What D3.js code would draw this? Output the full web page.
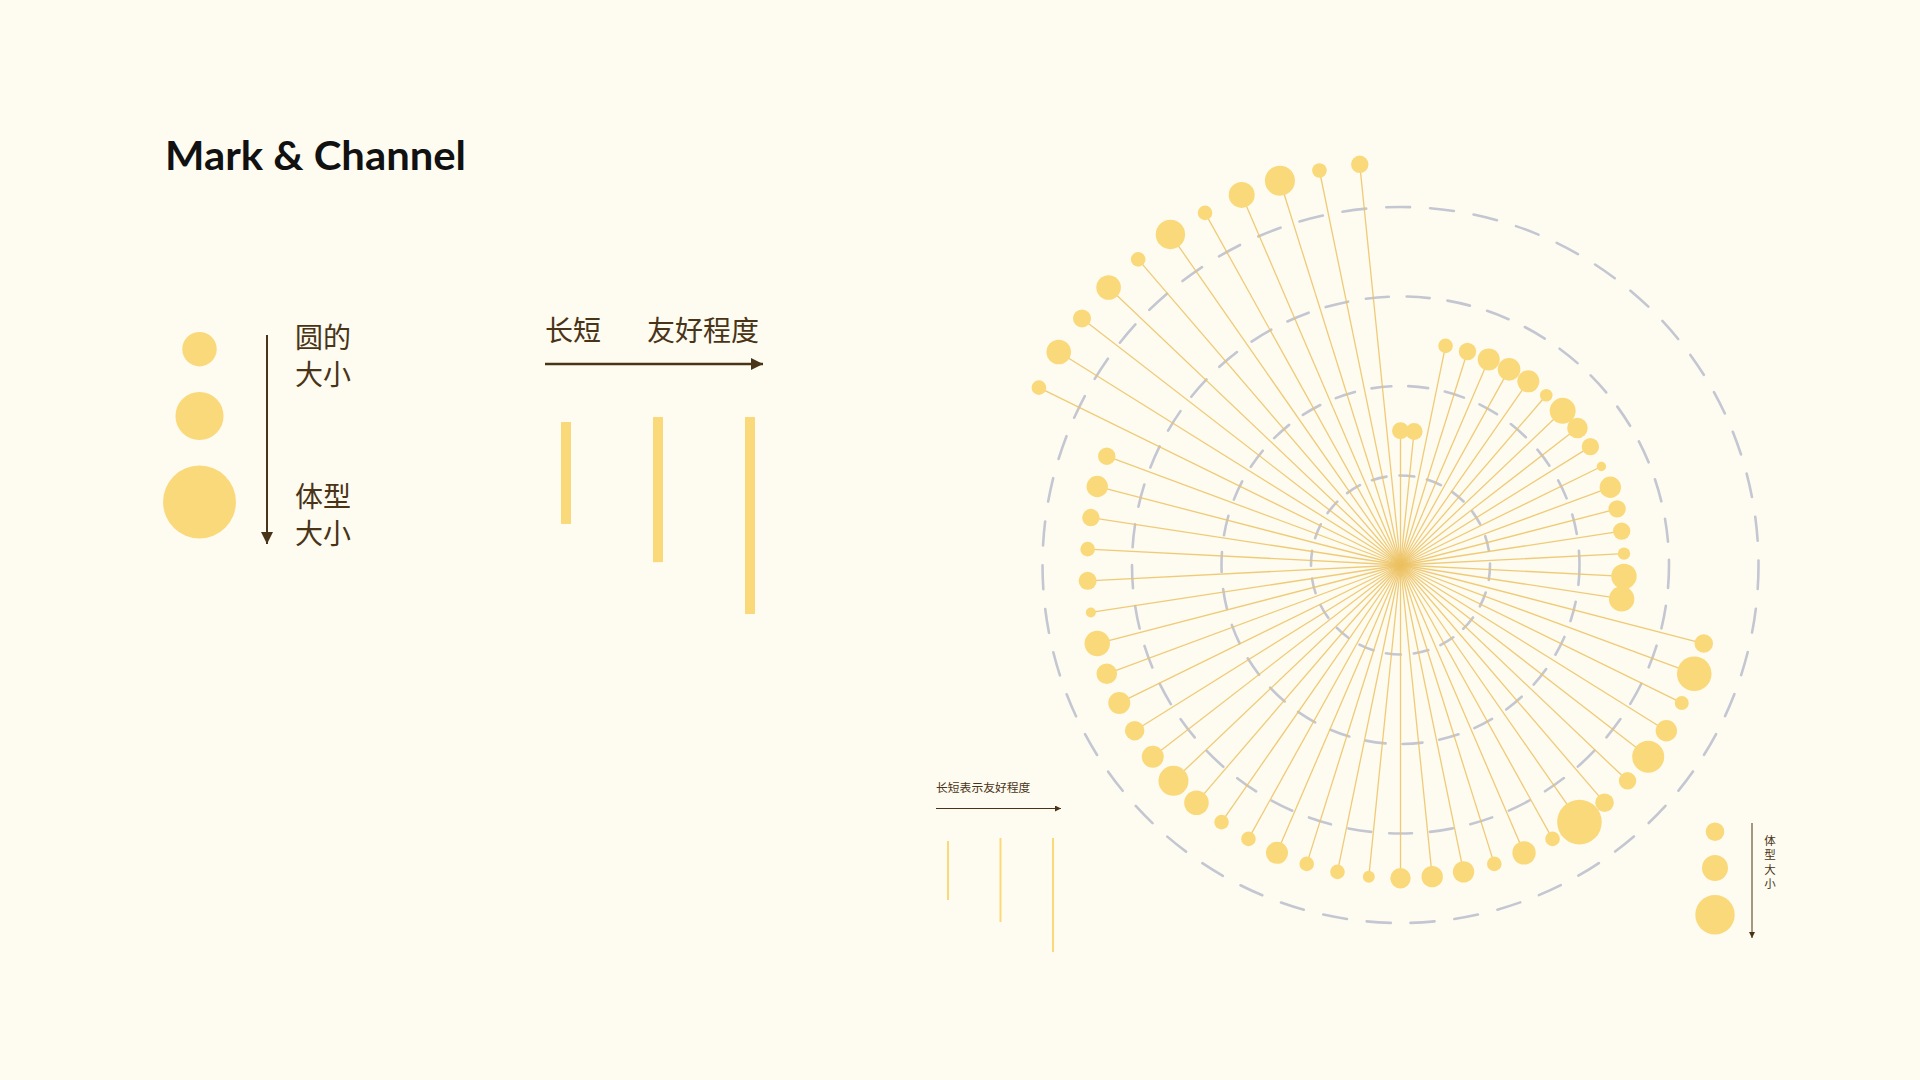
<!DOCTYPE html>
<html>
<head>
<meta charset="utf-8">
<script src="https://cdn.jsdelivr.net/npm/d3@7"></script>
<style>
  html, body { margin: 0; padding: 0; background: #FEFCF1; }
  svg { display: block; }
</style>
</head>
<body>
<svg id="chart" width="1920" height="1080"></svg>
<script>
// ---------------- DATA ----------------
// friendliness level (spoke length) for each animal, clockwise from 12 o'clock
const friendliness = [
  1, 1,
  2, 2, 2, 2, 2, 2, 2, 2, 2, 2, 2, 2, 2, 2, 2, 2,
  3, 3, 3, 3, 3, 3, 3, 3, 3, 3, 3, 3, 3, 3, 3, 3, 3,
  3, 3, 3, 3, 3, 3, 3, 3, 3, 3, 3, 3, 3, 3, 3, 3,
  4, 4, 4, 4, 4, 4, 4, 4, 4, 4, 4
];
// body size (circle radius units) for each animal
const bodySize = [
  8.5, 8.5,
  7.3, 8.7, 11, 11.3, 11, 6.3, 13, 10.3, 8.7, 4.7, 10.7, 8.7, 8.7, 6.2, 12.7, 12.7,
  9.3, 17.3, 7, 10.7, 16, 8.7, 9.3, 22.3, 7.3, 11.7, 7.3, 10.7, 10.7, 10.2, 6, 7.3, 7.3,
  11, 7.3, 7.3, 12.3, 15, 11, 9.7, 11, 10.3, 12.7, 5, 9, 7.3, 8.7, 10.7, 8.7,
  7.3, 12.3, 9, 12.3, 7.3, 14.7, 7.3, 13, 15, 7.3, 8.7
];
const gridLevels = [1, 2, 3, 4];
const ringDash = ["15 13", "20 17", "23 18", "24 20"];

// legend values
const sizeLegend = [9.3, 13, 19.7];          // small → large body size
const lengthLegend = [59, 84, 114];          // short → long friendliness
const titleText = "Mark & Channel";
const sizeLabel1 = ["圆的", "大小"];
const sizeLabel2 = ["体型", "大小"];
const lenLabelA = "长短";
const lenLabelB = "友好程度";
const smallLenLabel = "长短表示友好程度";
const smallSizeLabel = ["体", "型", "大", "小"];

// ---------------- STYLE ----------------
const BG = "#FEFCF1";
const YELLOW = "#FAD97B";
const LINE = "#ECC263";
const GRID = "#C4C7D2";
const BROWN = "#4A3417";

const svg = d3.select("#chart");
svg.append("rect").attr("width", 1920).attr("height", 1080).attr("fill", BG);

const defs = svg.append("defs");
function marker(id, w, h) {
  defs.append("marker")
    .attr("id", id).attr("viewBox", `0 0 ${w} ${h}`)
    .attr("refX", w).attr("refY", h / 2)
    .attr("markerWidth", w).attr("markerHeight", h)
    .attr("markerUnits", "userSpaceOnUse")
    .attr("orient", "auto")
    .append("path").attr("d", `M0,0L${w},${h / 2}L0,${h}Z`).attr("fill", BROWN);
}
marker("arrowBig", 12, 12);
marker("arrowSmall", 6, 6);

// ---------------- TITLE ----------------
svg.append("text")
  .attr("x", 165).attr("y", 170)
  .attr("font-family", "Lato, 'Noto Sans', sans-serif")
  .attr("font-weight", 700)
  .attr("font-size", 40)
  .attr("textLength", 301)
  .attr("lengthAdjust", "spacingAndGlyphs")
  .attr("fill", "#111")
  .text(titleText);

const CJK = "'Noto Sans CJK SC', 'Noto Sans', sans-serif";

// ---------------- LEFT: size legend (large) ----------------
const bigFactor = 1.85;
const bigSize = d3.scaleLinear().domain([0, 20]).range([0, 20 * bigFactor]);
{
  const g = svg.append("g");
  let y = 332;
  const gap = 25.5;
  sizeLegend.forEach((v, k) => {
    const r = bigSize(v);
    const cy = y + r;
    g.append("circle").attr("cx", 199.5).attr("cy", cy).attr("r", r).attr("fill", YELLOW);
    y = cy + r + gap;
  });
  g.append("line").attr("x1", 267).attr("x2", 267).attr("y1", 335).attr("y2", 544)
    .attr("stroke", BROWN).attr("stroke-width", 2).attr("marker-end", "url(#arrowBig)");
  const t1 = g.append("text").attr("font-family", CJK).attr("font-size", 28).attr("fill", BROWN);
  sizeLabel1.forEach((s, k) => t1.append("tspan").attr("x", 295).attr("y", 348 + k * 37).text(s));
  const t2 = g.append("text").attr("font-family", CJK).attr("font-size", 28).attr("fill", BROWN);
  sizeLabel2.forEach((s, k) => t2.append("tspan").attr("x", 295).attr("y", 507 + k * 37).text(s));
}

// ---------------- LEFT: length legend (large) ----------------
const bigLen = d3.scaleLinear().domain([0, 114]).range([0, 197]);
{
  const g = svg.append("g");
  g.append("text").attr("x", 545).attr("y", 341).attr("font-family", CJK).attr("font-size", 28)
    .attr("fill", BROWN).text(lenLabelA);
  g.append("text").attr("x", 647).attr("y", 341).attr("font-family", CJK).attr("font-size", 28)
    .attr("fill", BROWN).text(lenLabelB);
  g.append("line").attr("x1", 545).attr("x2", 763).attr("y1", 364).attr("y2", 364)
    .attr("stroke", BROWN).attr("stroke-width", 2.5).attr("marker-end", "url(#arrowBig)");
  const xs = d3.scalePoint().domain(d3.range(lengthLegend.length)).range([566, 750]);
  const tops = [422, 417, 417];
  g.selectAll("rect.bar").data(lengthLegend).join("rect")
    .attr("x", (d, k) => xs(k) - 5).attr("width", 10)
    .attr("y", (d, k) => tops[k]).attr("height", d => bigLen(d))
    .attr("fill", YELLOW);
}

// ---------------- RADIAL CHART ----------------
const cx = 1400.5, cy = 565;
const n = friendliness.length;
const rScale = d3.scaleLinear().domain([0, 4]).range([0, 358]);
const aScale = d3.scaleLinear().domain([0, n]).range([0, 2 * Math.PI]);
const sizeScale = d3.scaleLinear().domain([0, 20]).range([0, 20]);

const chart = svg.append("g").attr("transform", `translate(${cx},${cy})`);

chart.selectAll("circle.ring").data(gridLevels).join("circle")
  .attr("class", "ring")
  .attr("r", d => rScale(d))
  .attr("fill", "none")
  .attr("stroke", GRID)
  .attr("stroke-width", 2.6)
  .attr("stroke-dasharray", (d, k) => ringDash[k])
  .attr("stroke-linecap", "round");

const pts = friendliness.map((f, i) => {
  const a = aScale(i);
  const r = rScale(f + 0.5);
  return { x: Math.sin(a) * r, y: -Math.cos(a) * r, s: bodySize[i] };
});

chart.selectAll("line.spoke").data(pts).join("line")
  .attr("class", "spoke")
  .attr("x1", 0).attr("y1", 0)
  .attr("x2", d => d.x).attr("y2", d => d.y)
  .attr("stroke", LINE)
  .attr("stroke-width", 1.3)
  .attr("stroke-opacity", 0.85);

chart.selectAll("circle.dot").data(pts).join("circle")
  .attr("class", "dot")
  .attr("cx", d => d.x).attr("cy", d => d.y)
  .attr("r", d => sizeScale(d.s))
  .attr("fill", YELLOW);

// ---------------- SMALL length legend ----------------
const smallLen = d3.scaleLinear().domain([0, 114]).range([0, 114]);
{
  const g = svg.append("g");
  g.append("text").attr("x", 936).attr("y", 792).attr("font-family", CJK).attr("font-size", 11.8)
    .attr("fill", BROWN).text(smallLenLabel);
  g.append("line").attr("x1", 936).attr("x2", 1061).attr("y1", 808.5).attr("y2", 808.5)
    .attr("stroke", BROWN).attr("stroke-width", 1).attr("marker-end", "url(#arrowSmall)");
  const xs = d3.scalePoint().domain(d3.range(lengthLegend.length)).range([948, 1053]);
  const tops = [841, 838, 838];
  g.selectAll("rect.sbar").data(lengthLegend).join("rect")
    .attr("x", (d, k) => xs(k) - 1).attr("width", 2)
    .attr("y", (d, k) => tops[k]).attr("height", d => smallLen(d))
    .attr("fill", YELLOW);
}

// ---------------- SMALL size legend ----------------
{
  const g = svg.append("g");
  let y = 822.4;
  const gap = 14;
  sizeLegend.forEach(v => {
    const r = sizeScale(v);
    const c = y + r;
    g.append("circle").attr("cx", 1715).attr("cy", c).attr("r", r).attr("fill", YELLOW);
    y = c + r + gap;
  });
  g.append("line").attr("x1", 1752).attr("x2", 1752).attr("y1", 823).attr("y2", 938)
    .attr("stroke", BROWN).attr("stroke-width", 1).attr("marker-end", "url(#arrowSmall)");
  const t = g.append("text").attr("font-family", CJK).attr("font-size", 11.5).attr("fill", BROWN)
    .attr("text-anchor", "middle");
  smallSizeLabel.forEach((s, k) => t.append("tspan").attr("x", 1770).attr("y", 844.5 + k * 14.5).text(s));
}
</script>
</body>
</html>
